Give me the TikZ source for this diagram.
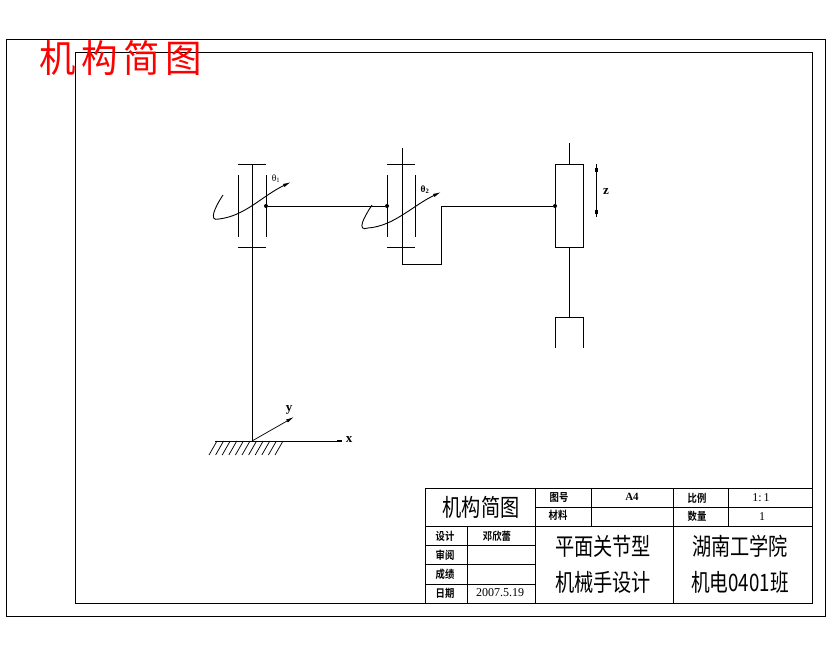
\documentclass[tikz,border=0pt]{standalone}
\usepackage{fontspec}
\usetikzlibrary{arrows.meta}
\newfontfamily\cjkr{Noto Sans CJK SC}
\newfontfamily\cjkb{Noto Sans CJK SC Bold}
\setmainfont{Liberation Serif}
\newcommand{\sq}[2]{\scalebox{#1}[1]{#2}}
\tikzset{
 ln/.style={draw=black,line width=0.9pt},
 thin ln/.style={draw=black,line width=0.75pt},
 sm/.style={inner sep=0pt,font=\cjkb\fontsize{11}{11}\selectfont},
 big/.style={inner sep=0pt,font=\cjkr\fontsize{24}{24}\selectfont},
 tip/.style={-{Latex[length=8pt,width=3.5pt]}},
 dot/.style={circle,fill=black,inner sep=0pt,minimum size=4pt},
}
\begin{document}
\begin{tikzpicture}[x=1pt,y=-1pt]
\useasboundingbox (0,0) rectangle (830,654);
\fill[white] (0,0) rectangle (830,654);
% frames
\draw[ln] (6,39) rectangle (825,616);
\draw[ln] (75,52) rectangle (812,603);
\node[inner sep=0pt,text=red,font=\cjkr\fontsize{38}{38}\selectfont] (title) at (120.5,58) {\sq{0.96}{\addfontfeature{LetterSpace=15}机构简图}};
% title block
\draw[ln] (425,488) rectangle (812,603);
\draw[ln] (425,526) -- (812,526);
\draw[ln] (535,507) -- (812,507);
\draw[ln] (535,488) -- (535,603);
\draw[ln] (673,488) -- (673,603);
\draw[ln] (591,488) -- (591,526);
\draw[ln] (728,488) -- (728,526);
\draw[ln] (467,526) -- (467,603);
\draw[ln] (425,545) -- (535,545);
\draw[ln] (425,564) -- (535,564);
\draw[ln] (425,584) -- (535,584);
\node[big] (t0) at (481,507) {\sq{0.8}{机构简图}};
\node[sm] (t1) at (559,498) {\sq{0.85}{图号}};
\node[sm] (t2) at (558,515) {\sq{0.85}{材料}};
\node[inner sep=0pt,font=\bfseries\fontsize{11}{11}\selectfont] (t3) at (632,497) {A4};
\node[sm] (t4) at (697,498) {\sq{0.85}{比例}};
\node[sm] (t5) at (697,516) {\sq{0.85}{数量}};
\node[inner sep=0pt,font=\fontsize{12}{12}\selectfont] (t6) at (761,498) {1:\,1};
\node[inner sep=0pt,font=\fontsize{12}{12}\selectfont] (t7) at (762,517) {1};
\node[sm] (t8) at (445,536) {\sq{0.85}{设计}};
\node[sm] (t9) at (497,536) {\sq{0.85}{邓欣蕾}};
\node[sm] (t10) at (445,555) {\sq{0.85}{审阅}};
\node[sm] (t11) at (445,574) {\sq{0.85}{成绩}};
\node[sm] (t12) at (445,593) {\sq{0.85}{日期}};
\node[inner sep=0pt,font=\fontsize{12}{12}\selectfont] (t13) at (500,593) {2007.5.19};
\node[big] (t14) at (603,546) {\sq{0.8}{平面关节型}};
\node[big] (t15) at (603,582) {\sq{0.8}{机械手设计}};
\node[big] (t16) at (740,546) {\sq{0.8}{湖南工学院}};
\node[big] (t17) at (740,582) {\sq{0.78}{机电0401班}};
% joint 1
\draw[ln] (252,164) -- (252,441);
\draw[ln] (238,164) -- (266,164);
\draw[ln] (238,247) -- (266,247);
\draw[ln] (238,175) -- (238,237);
\draw[ln] (266,175) -- (266,237);
\draw[ln,tip] (223,195) .. controls (215,207) and (208,222) .. (219,219) .. controls (245,216) and (262,196) .. (291,182);
\node[inner sep=0pt,font=\fontsize{9.5}{9.5}\selectfont] (th1) at (276,179) {θ\textsubscript{1}};
% link
\node[dot] (d1) at (266,206) {};
\node[dot] (d2) at (387,206) {};
\node[dot] (d3) at (555,206) {};
\draw[ln] (d1) -- (d2);
% joint 2
\draw[ln] (402,148) -- (402,264) -- (441,264) -- (441,206) -- (d3);
\draw[ln] (387,164) -- (415,164);
\draw[ln] (387,247) -- (415,247);
\draw[ln] (387,175) -- (387,237);
\draw[ln] (415,175) -- (415,237);
\draw[ln,tip] (372,205) .. controls (364,217) and (356,232) .. (368,228) .. controls (394,226) and (412,206) .. (441,192);
\node[inner sep=0pt,font=\bfseries\fontsize{9.5}{9.5}\selectfont] (th2) at (425,190) {θ\textsubscript{2}};
% slider
\node[draw=black,line width=0.9pt,minimum width=28pt,minimum height=83pt,inner sep=0pt,anchor=north west] (s) at (555,164) {};
\coordinate (stop) at (569,143);
\coordinate (grip) at (569,317);
\draw[ln] (stop) -- (569,164);
\draw[ln] (569,247) -- (grip);
\draw[ln] (555,348) -- (555,317) -- (583,317) -- (583,348);
\coordinate (za) at (596,164);
\coordinate (zb) at (596,217);
\draw[ln] (za) -- (zb);
\fill (594.5,168) rectangle (597.5,172);
\fill (594.5,210) rectangle (597.5,214);
\node[inner sep=0pt,font=\bfseries\fontsize{13}{13}\selectfont] (zl) at (606,192) {z};
% base
\coordinate (o) at (252,441);
\coordinate (xe) at (342,441);
\coordinate (ye) at (294,417);
\draw[ln] (215,441) -- (283,441);
\draw[thin ln] (o) -- (xe);
\fill (337,440) rectangle (342,442);
\draw[thin ln,tip] (o) -- (ye);
\foreach \h in {0,...,10} \draw[thin ln] ({217+\h*6.6},441) -- ++(-8,14);
\node[inner sep=0pt,font=\bfseries\fontsize{13}{13}\selectfont] (xl) at (349,440) {x};
\node[inner sep=0pt,font=\bfseries\fontsize{13}{13}\selectfont] (yl) at (289,410) {y};
\end{tikzpicture}
\end{document}
